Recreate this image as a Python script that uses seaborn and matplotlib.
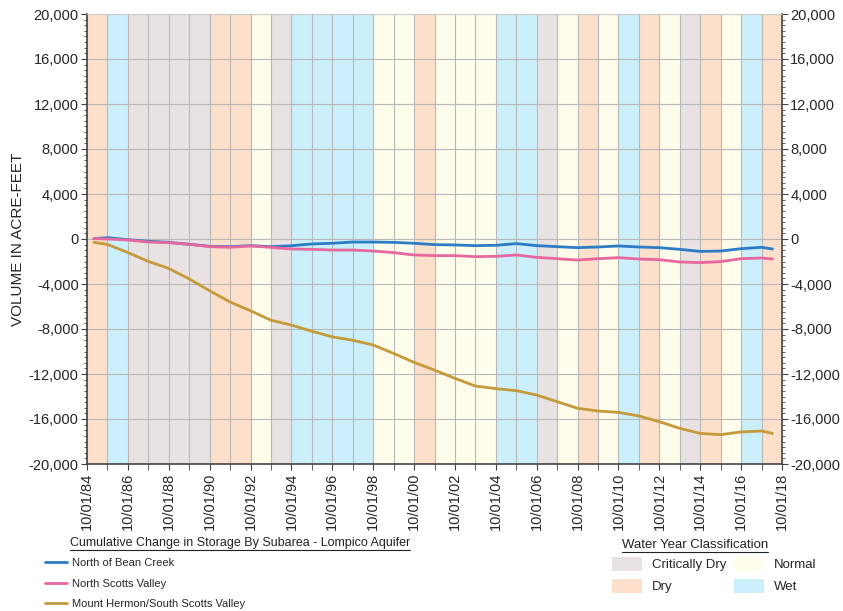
import matplotlib
matplotlib.use("Agg")
import matplotlib.pyplot as plt
import matplotlib.dates as mdates
import matplotlib.ticker as mticker
from matplotlib.lines import Line2D
from matplotlib.patches import Patch
import pandas as pd
import seaborn as sns

# sample dates (first reading, each Oct 1 from 1985 to 2017, last reading)
dates = (["1985-02-01"] + [f"{y}-10-01" for y in range(1985, 2018)] + ["2018-04-15"])

bean_creek = [30, 120, -60, -200, -300, -470, -650, -680, -590, -680,
              -600, -440, -380, -270, -270, -300, -380, -500, -530, -590,
              -560, -410, -590, -680, -770, -710, -620, -710, -770, -920,
              -1100, -1070, -860, -740, -890]
scotts_valley = [30, 0, -90, -270, -330, -470, -680, -740, -620, -740,
                 -890, -920, -980, -980, -1070, -1210, -1420, -1480, -1480, -1570,
                 -1540, -1420, -1630, -1750, -1870, -1750, -1660, -1780, -1840, -2040,
                 -2100, -2010, -1750, -1690, -1780]
mount_hermon = [-300, -480, -1200, -1990, -2620, -3550, -4600, -5600, -6380, -7220,
                -7650, -8200, -8700, -9000, -9420, -10170, -10970, -11650, -12390, -13070,
                -13300, -13480, -13870, -14460, -15050, -15290, -15410, -15730, -16240, -16830,
                -17280, -17390, -17150, -17070, -17280]

series_names = ["North of Bean Creek", "North Scotts Valley", "Mount Hermon/South Scotts Valley"]
series_colors = ["#2b7cc4", "#e8679f", "#c49a3a"]

# water year classification, WY1985 .. WY2018
water_years = list(range(1985, 2019))
wy_class = ["Dry", "Wet", "CD", "CD", "CD", "CD", "Dry", "Dry", "Normal", "CD",
            "Wet", "Wet", "Wet", "Wet", "Normal", "Normal", "Dry", "Normal", "Normal", "Normal",
            "Wet", "Wet", "CD", "Normal", "Dry", "Normal", "Wet", "Dry", "Normal", "CD",
            "Dry", "Normal", "Wet", "Dry"]
class_colors = {"CD": "#e8e2e2", "Dry": "#fde0cb", "Normal": "#fefcea", "Wet": "#ccf0fb"}

df = pd.DataFrame({
    "date": pd.to_datetime(dates * 3),
    "volume": bean_creek + scotts_valley + mount_hermon,
    "subarea": [n for n in series_names for _ in dates],
})

sns.set_style("white")
plt.rcParams["font.family"] = ["Liberation Sans", "DejaVu Sans"]
narrow = ["Liberation Sans Narrow", "Liberation Sans", "DejaVu Sans"]

fig = plt.figure(figsize=(8.43, 6.11), dpi=100)
ax = fig.add_axes([87 / 843, 1 - 464 / 611, 695 / 843, 450 / 611])

for wy, cls in zip(water_years, wy_class):
    ax.axvspan(pd.Timestamp(f"{wy - 1}-10-01"), pd.Timestamp(f"{wy}-10-01"),
               color=class_colors[cls], lw=0, zorder=0)

sns.lineplot(data=df, x="date", y="volume", hue="subarea", hue_order=series_names,
             palette=series_colors, linewidth=2, legend=False, ax=ax, zorder=3)

ax.set_xlim(pd.Timestamp("1984-10-01"), pd.Timestamp("2018-10-01"))
ax.set_ylim(-20000, 20000)
ax.xaxis.set_major_locator(mdates.YearLocator(2, month=10, day=1))
ax.xaxis.set_minor_locator(mdates.YearLocator(1, month=10, day=1))
ax.xaxis.set_major_formatter(mdates.DateFormatter("%m/%d/%y"))
ax.yaxis.set_major_locator(mticker.MultipleLocator(4000))
ax.yaxis.set_minor_locator(mticker.MultipleLocator(500))
fmt = mticker.FuncFormatter(lambda v, p: f"{int(v):,}")
ax.yaxis.set_major_formatter(fmt)
ax.grid(True, which="both", axis="x", color="#b8b8b8", lw=0.8)
ax.grid(True, which="major", axis="y", color="#b8b8b8", lw=0.8)
for line in ax.get_xgridlines() + ax.get_ygridlines():
    line.set_zorder(1)

ax.tick_params(axis="x", which="both", direction="out", length=4, color="#444444",
               labelsize=10.5, labelrotation=90, pad=2, bottom=True)
ax.tick_params(axis="y", which="major", direction="out", length=4, color="#444444",
               labelsize=10.5, left=True, pad=2)
ax.tick_params(axis="y", which="minor", direction="out", length=2, color="#444444", left=True)
ax.set_xlabel("")
ax.set_ylabel("VOLUME IN ACRE-FEET", fontsize=11, labelpad=3)
for side in ["left", "bottom", "right"]:
    ax.spines[side].set_color("#444444")
    ax.spines[side].set_linewidth(1.2)
ax.spines["top"].set_color("#cccccc")

ax2 = ax.twinx()
ax2.set_ylim(ax.get_ylim())
ax2.yaxis.set_major_locator(mticker.MultipleLocator(4000))
ax2.yaxis.set_minor_locator(mticker.MultipleLocator(500))
ax2.yaxis.set_major_formatter(fmt)
ax2.tick_params(axis="y", which="major", direction="out", length=4, color="#444444",
                labelsize=10.5, right=True, pad=2)
ax2.tick_params(axis="y", which="minor", direction="out", length=2, color="#444444", right=True)
for s in ax2.spines.values():
    s.set_visible(False)

# legends
line_handles = [Line2D([], [], color=c, lw=2) for c in series_colors]
fig.legend(line_handles, series_names, loc="upper left",
           bbox_to_anchor=(45 / 843, 1 - 558 / 611), frameon=False,
           prop={"family": narrow, "size": 8}, handlelength=2.0,
           labelspacing=0.95, handletextpad=0.4, borderaxespad=0, borderpad=0)
patch_labels = ["Critically Dry", "Dry", "Normal", "Wet"]
patch_keys = ["CD", "Dry", "Normal", "Wet"]
patch_handles = [Patch(facecolor=class_colors[k], edgecolor="none") for k in patch_keys]
fig.legend(patch_handles, patch_labels, loc="upper left", ncol=2,
           bbox_to_anchor=(612 / 843, 1 - 557 / 611), frameon=False,
           prop={"family": narrow, "size": 9.5}, handlelength=2.3, handleheight=1.2,
           labelspacing=0.6, handletextpad=0.7, columnspacing=0.6,
           borderaxespad=0, borderpad=0)

t1 = fig.text(70 / 843, 1 - 543 / 611, "Cumulative Change in Storage By Subarea - Lompico Aquifer",
              fontsize=9, family=narrow, va="center", ha="left", color="#222222")
t2 = fig.text(695 / 843, 1 - 545 / 611, "Water Year Classification",
              fontsize=9.5, family=narrow, va="center", ha="center", color="#222222")

fig.canvas.draw()
inv = fig.transFigure.inverted()
for t in (t1, t2):
    bb = t.get_window_extent()
    (x0, y0), (x1, _) = inv.transform([(bb.x0, bb.y0 - 1), (bb.x1, bb.y0 - 1)])
    fig.add_artist(Line2D([x0, x1], [y0, y0], transform=fig.transFigure,
                          color="#222222", lw=0.8))

fig.savefig("out.png", dpi=100)
